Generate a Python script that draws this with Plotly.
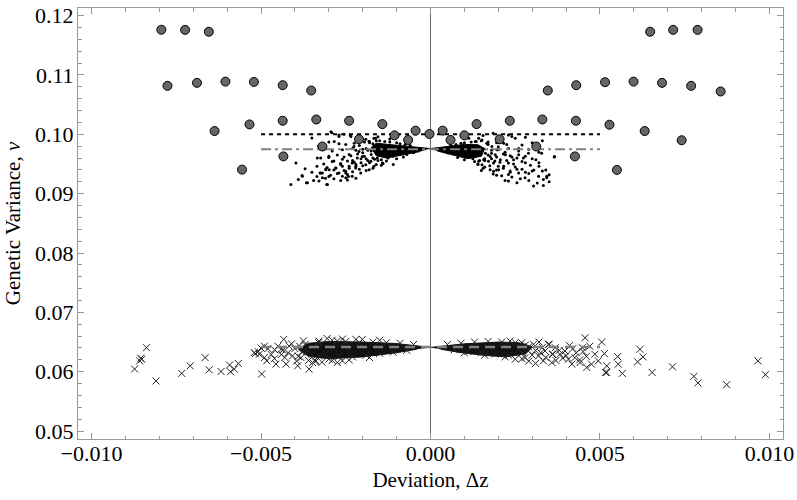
import numpy as np
import plotly.graph_objects as go

# all positions in units of 1e-3 (x: deviation dz, y: genetic variance v)

# gray circles
circ_x = [-7.94, -7.24, -6.54,
          -7.76, -6.89, -6.05, -5.21, -4.36, -3.52,
          -6.37, -5.34, -4.36, -3.37, -2.40, -1.42, -0.44,
          -5.56, -4.34, -3.19, -2.11, -1.06, -0.03, -0.66,
          0.36, 0.59, 1.00, 1.36, 2.04, 2.34, 3.12, 3.30,
          3.46, 4.30, 5.15, 5.99, 6.83, 7.69, 8.56,
          4.29, 5.28, 6.32, 7.41, 4.26, 5.50,
          6.48, 7.16, 7.88]
circ_y = [117.62, 117.60, 117.28,
          108.17, 108.67, 108.88, 108.83, 108.28, 107.38,
          100.55, 101.67, 102.28, 102.50, 102.28, 101.72, 100.62,
          94.05, 96.28, 97.95, 99.17, 99.83, 100.05, 99.05,
          100.62, 99.05, 99.83, 101.72, 99.17, 102.28, 97.95, 102.50,
          107.38, 108.28, 108.78, 108.88, 108.67, 108.17, 107.22,
          102.28, 101.62, 100.55, 99.00, 96.28, 94.00,
          117.28, 117.60, 117.60]

# small black dots, scattered part
dot_x = [-3.63, -3.06, -3.79, -3.97, -3.26, -3.09, -2.80, -2.50, -2.42, -2.20,
         -2.91, -2.70, -2.37, -1.91, -1.81, -1.62, -3.78, -3.34, -3.24, -3.29,
         -3.19, -3.04, -2.99, -2.79, -2.70, -2.60, -2.45, -2.50, -2.40, -2.31,
         -2.21, -2.16, -2.01, -2.11, -2.26, -1.91, -1.76, -1.67, -1.57, -1.47,
         -1.42, -1.81, -2.06, -2.31, -2.50, -3.09, -3.24, -3.19, -4.12, -3.66,
         -2.94, -2.70, -2.35, -2.84, -1.67, -1.81,
         -1.80, -1.90, -2.00, -1.70, -1.55, -1.30, -1.00, -0.80, -1.20, -0.90,
         -1.60, -2.20, -2.40, -2.60, -2.30, -1.90, -2.10, -2.50, -1.10, -1.35,
         -1.75, -2.05, -2.65, -2.85, -3.00, -1.45, -0.95, -0.70, -0.60, -1.15,
         -1.85, -2.00, -2.30, -2.60, -2.90, -3.20,
         -1.75, -1.95, -2.15, -2.35, -2.55, -2.75, -3.00,
         -1.65, -1.85, -2.05, -2.25, -2.45, -2.65, -2.90, -3.15,
         -1.40, -1.60, -1.80, -2.00, -2.20, -2.40, -2.60, -2.85, -3.05, -3.35,
         -1.70, -1.90, -2.10, -2.30, -2.55, -2.75, -2.95, -3.10, -3.35, -3.50, -3.70,
         -2.20, -2.45, -2.65, -2.85, -3.00, -3.45, -3.90,
         -0.50, -0.60, -0.75, -1.00, -1.25, -1.45, -1.10, -0.90, -1.35, -1.50,
         -1.70, -1.95, -2.25, -2.70, -3.00, -3.30, -1.55, -1.20, -2.55, -3.50,
         1.42, 1.52, 1.66, 1.81, 1.96, 2.40, 2.50, 2.16, 1.62, 1.76,
         1.91, 2.06, 1.86, 1.71, 1.57, 2.21, 2.30, 2.45, 2.60, 2.74,
         2.89, 3.11, 3.66, 2.16, 2.01, 1.86, 2.30, 2.55, 2.60, 2.79,
         3.04, 3.33, 3.43, 3.19, 2.30, 1.76, 1.52, 1.42, 1.32, 2.01,
         1.13, 1.32, 3.28, 3.65, 3.33, 3.43,
         1.70, 1.80, 1.60, 1.30, 1.00, 0.80, 1.20, 0.90, 2.00, 2.20,
         2.40, 1.90, 2.10, 2.60, 2.80, 2.50, 2.00, 1.60, 1.50, 2.70,
         3.00, 3.20, 3.50, 1.10, 0.70, 2.90, 2.35, 1.95, 1.40, 3.40,
         1.80, 2.00, 2.30, 2.60, 2.90, 3.20,
         1.70, 1.95, 2.15, 2.35, 2.55, 2.80, 3.00,
         1.60, 1.80, 2.05, 2.25, 2.45, 2.70, 2.95, 3.20,
         1.40, 1.55, 1.75, 1.95, 2.15, 2.35, 2.55, 2.80, 3.05, 3.30,
         1.85, 2.10, 2.40, 2.65, 2.90, 3.15, 3.50, 2.20,
         0.50, 0.60, 0.75, 1.00, 1.25, 1.45, 1.10, 0.90, 1.35, 1.50,
         1.70, 1.95, 2.25, 2.70, 3.00, 1.55, 1.85, 2.30, 2.80, 3.30]
dot_y = [91.83, 91.55, 93.05, 95.17, 93.50, 94.17, 94.33, 93.50, 92.90, 94.60,
         100.28, 99.62, 99.89, 99.17, 98.78, 99.33, 92.95, 96.00, 96.00, 92.12,
         93.50, 91.55, 94.05, 94.33, 93.50, 92.95, 93.22, 93.78, 94.62, 95.17,
         94.33, 96.00, 96.28, 97.12, 97.95, 94.88, 95.45, 94.62, 96.00, 96.55,
         95.17, 94.05, 93.50, 92.95, 92.67, 94.05, 93.50, 92.67, 91.55, 91.83,
         100.45, 99.89, 99.62, 98.78, 99.33, 98.78,
         98.60, 97.60, 96.90, 96.00, 95.60, 95.50, 95.90, 96.20, 98.70, 98.40,
         98.90, 97.30, 96.60, 95.80, 95.60, 95.90, 98.10, 98.30, 94.90, 96.70,
         97.20, 95.20, 94.90, 95.50, 96.30, 94.80, 97.00, 96.60, 98.00, 97.60,
         97.30, 97.50, 97.60, 97.40, 97.20, 97.50,
         96.60, 96.30, 96.70, 96.40, 96.20, 96.50, 96.10,
         95.80, 95.60, 95.90, 95.30, 95.50, 95.10, 95.40, 95.00,
         95.10, 94.90, 95.20, 94.70, 94.90, 94.30, 94.60, 94.00, 94.40, 94.60,
         94.30, 93.90, 94.10, 93.70, 93.90, 93.40, 93.10, 92.60, 92.90, 93.60, 94.20,
         92.60, 92.30, 92.20, 92.50, 92.90, 92.20, 92.40,
         96.90, 98.10, 98.30, 98.60, 96.00, 95.70, 96.30, 96.60, 98.80, 98.90,
         98.40, 98.70, 98.50, 98.40, 98.70, 98.00, 99.60, 99.20, 100.00, 99.40,
         99.33, 99.05, 98.50, 97.95, 97.38, 99.62, 99.33, 98.50, 96.83, 96.28,
         96.55, 95.72, 95.17, 95.45, 95.72, 96.55, 95.17, 95.72, 96.55, 96.00,
         96.83, 95.72, 96.28, 94.62, 94.05, 93.78, 93.22, 91.83, 93.50, 92.67,
         91.28, 91.38, 92.67, 92.95, 92.12, 94.05, 94.88, 95.45, 96.28, 99.62,
         99.33, 98.78, 96.83, 96.17, 92.38, 92.95,
         98.70, 96.80, 95.90, 95.40, 95.70, 96.10, 98.70, 98.50, 97.90, 97.00,
         96.20, 95.50, 98.80, 97.60, 95.20, 94.50, 94.60, 94.50, 93.90, 94.10,
         93.80, 94.60, 93.20, 97.10, 96.80, 93.40, 93.60, 93.10, 95.00, 94.00,
         97.30, 97.40, 97.60, 97.20, 97.50, 97.00,
         96.50, 96.20, 96.70, 96.40, 96.00, 96.30, 95.90,
         95.60, 95.90, 95.30, 95.60, 95.00, 95.40, 94.80, 95.20,
         94.90, 94.30, 94.70, 94.00, 94.30, 93.80, 94.10, 93.60, 94.00, 93.80,
         93.30, 93.00, 92.80, 92.50, 92.20, 91.80, 92.00, 92.20,
         96.90, 98.10, 98.30, 98.60, 95.90, 95.60, 96.30, 96.60, 98.80, 98.90,
         98.30, 98.60, 98.30, 98.20, 98.60, 99.80, 100.20, 99.90, 99.50, 98.90]

# outline of the solid dot wedges around dz = 0
wedge_l_x = [0.0, -0.6, -1.2, -1.6, -1.75, -1.6, -1.3, -0.8, -0.3]
wedge_l_y = [97.6, 97.95, 98.3, 98.5, 97.8, 96.4, 96.0, 96.5, 97.1]
wedge_r_x = [0.0, 0.5, 1.0, 1.4, 1.6, 1.5, 1.1, 0.6, 0.2]
wedge_r_y = [97.6, 98.0, 98.3, 98.25, 97.6, 96.3, 95.9, 96.6, 97.2]

# crosses, scattered part
crs_x = [-8.38, -8.55, -8.58, -8.52, -8.73, -8.10, -7.34, -7.09, -6.65, -6.53,
         -6.18, -5.93, -5.90, -5.79, -5.67, -5.17, -5.08, -4.98, -4.90, -4.83,
         -4.33, -4.56, -4.26, -3.92, -3.58, -3.48, -3.29, -2.75, -2.75, -2.20,
         -2.01, -5.20, -5.05, -4.41, -4.17, -4.07, -3.87, -3.82, -3.63, -3.29,
         -3.00, -3.38, -2.60,
         -4.00, -3.70, -3.50, -3.30, -3.10, -2.90, -2.70, -2.50, -2.30, -2.10,
         -1.90, -1.70, -1.50, -1.30, -1.10, -0.90, -0.70, -0.50, -4.20, -3.90,
         -4.60, -4.40, -3.60, -3.20, -2.90, -2.40, -1.80, -3.05, -2.60, -1.50,
         -4.80, -4.70, -4.50, -4.30, -4.10, -3.95, -3.75, -3.40, -4.90, -4.60,
         -3.80, -4.35, -5.00,
         5.05, 4.56, 4.48, 4.41, 4.61, 5.20, 4.17, 3.82, 3.48, 3.04,
         2.69, 2.79, 3.58, 3.97, 5.13, 5.20, 5.16, 5.52, 5.54, 5.66,
         6.18, 6.27, 6.11, 6.54, 7.14, 7.77, 7.89, 8.74, 9.66, 9.88,
         3.19, 3.33, 2.89, 3.68, 4.26, 4.85, 4.95, 4.75, 4.07, 3.38,
         2.35, 2.50,
         0.50, 0.70, 0.90, 1.10, 1.30, 1.50, 1.70, 1.90, 2.10, 2.30,
         2.50, 2.70, 2.90, 3.10, 2.20, 1.60, 1.00, 3.30, 3.60, 3.90,
         4.10, 4.30, 4.60, 4.70,
         2.60, 2.80, 3.00, 3.20, 3.40, 3.50, 3.70, 3.80, 4.00, 4.20,
         4.40, 2.90, 3.25, 3.60, 4.50, 3.10, 2.70]
crs_y = [64.05, 62.28, 61.83, 62.10, 60.45, 58.45, 59.72, 61.00, 62.38, 60.33,
         60.05, 61.12, 60.00, 60.45, 61.38, 63.05, 63.38, 59.62, 62.38, 61.83,
         65.45, 61.28, 61.28, 61.00, 60.45, 61.55, 65.17, 65.17, 61.55, 65.45,
         65.45, 63.22, 62.95, 63.78, 64.33, 62.67, 64.33, 62.38, 63.50, 62.67,
         62.12, 61.83, 61.83,
         63.90, 64.60, 62.90, 64.90, 63.00, 65.30, 62.60, 65.10, 62.50, 64.90,
         62.80, 65.00, 63.10, 64.90, 63.30, 64.80, 63.60, 64.60, 63.20, 62.60,
         63.70, 62.90, 61.90, 61.60, 61.90, 62.00, 62.40, 65.60, 65.50, 65.30,
         63.90, 62.90, 64.30, 62.40, 64.70, 61.80, 65.20, 61.70, 64.30, 62.20,
         63.30, 63.70, 64.00,
         65.00, 65.72, 64.05, 61.55, 60.72, 59.88, 61.28, 62.95, 64.62, 64.62,
         64.88, 62.38, 61.55, 63.50, 63.05, 61.00, 59.88, 62.55, 61.28, 59.72,
         63.78, 62.50, 61.67, 59.88, 60.83, 59.22, 58.12, 57.83, 61.83, 59.50,
         62.67, 61.83, 63.50, 64.05, 62.38, 62.95, 61.83, 61.28, 62.12, 63.50,
         65.17, 62.12,
         64.60, 63.70, 64.80, 63.40, 65.00, 63.20, 65.10, 63.00, 65.00, 62.80,
         64.90, 63.20, 64.20, 63.60, 62.50, 62.80, 63.20, 64.10, 63.00, 62.30,
         64.40, 63.20, 62.60, 64.30,
         63.80, 64.50, 62.80, 65.00, 62.40, 64.60, 61.90, 63.60, 62.70, 63.90,
         62.00, 61.80, 63.20, 62.90, 63.40, 61.40, 62.20]

# outline of the solid cross bands
band_l_x = [0.0, -1.0, -2.0, -3.0, -3.6, -3.9, -3.6, -3.0, -2.0, -1.0, -0.4]
band_l_y = [64.1, 64.75, 65.0, 65.1, 64.8, 63.8, 62.6, 62.2, 62.5, 63.2, 63.8]
band_r_x = [0.0, 1.0, 2.0, 2.6, 3.0, 2.8, 2.2, 1.5, 0.8, 0.3]
band_r_y = [64.1, 64.7, 65.0, 64.9, 64.2, 63.0, 62.5, 62.8, 63.3, 63.8]

# reference lines
ref_x = [-5.0, 5.0]
ref_top = 100.0
ref_mid = 97.5
ref_low = 64.15

s = 1e-3
fnt = "Liberation Serif, Times New Roman, serif"

fig = go.Figure()

for wx, wy in [(wedge_l_x, wedge_l_y), (wedge_r_x, wedge_r_y)]:
    fig.add_trace(go.Scatter(x=np.array(wx) * s, y=np.array(wy) * s, fill="toself",
                             fillcolor="black", mode="lines",
                             line=dict(color="black", width=1)))
fig.add_trace(go.Scatter(x=np.array(dot_x) * s, y=np.array(dot_y) * s, mode="markers",
                         marker=dict(color="black", size=3)))

for bx, by in [(band_l_x, band_l_y), (band_r_x, band_r_y)]:
    fig.add_trace(go.Scatter(x=np.array(bx) * s, y=np.array(by) * s, fill="toself",
                             fillcolor="#111", mode="lines",
                             line=dict(color="#111", width=1)))
fig.add_trace(go.Scatter(x=np.array(crs_x) * s, y=np.array(crs_y) * s, mode="markers",
                         marker=dict(symbol="x-thin-open", size=7, color="#222",
                                     line=dict(color="#222", width=1))))

rx = np.array(ref_x) * s
fig.add_trace(go.Scatter(x=rx, y=[ref_top * s] * 2, mode="lines",
                         line=dict(color="black", width=2, dash="4px,4px")))
fig.add_trace(go.Scatter(x=rx, y=[ref_mid * s] * 2, mode="lines",
                         line=dict(color="#808080", width=2, dash="10px,4px,3px,4px")))
fig.add_trace(go.Scatter(x=rx, y=[ref_low * s] * 2, mode="lines",
                         line=dict(color="#808080", width=2.5, dash="10px,6px")))

fig.add_trace(go.Scatter(x=np.array(circ_x) * s, y=np.array(circ_y) * s, mode="markers",
                         marker=dict(color="#666666", size=9,
                                     line=dict(color="black", width=1))))

axis_common = dict(showgrid=False, showline=True, linecolor="#999", linewidth=1,
                   mirror="allticks", ticks="inside", ticklen=6, tickcolor="#999",
                   ticklabeloverflow="allow",
                   tickfont=dict(family=fnt, size=22, color="black"))

fig.update_layout(
    width=797, height=500,
    margin=dict(l=78, r=12, t=3, b=61),
    plot_bgcolor="white", paper_bgcolor="white",
    showlegend=False,
    font=dict(family=fnt, size=21, color="black"),
    xaxis=dict(range=[-0.0104, 0.0104], tick0=0, dtick=0.005, tickformat=".3f",
               zeroline=True, zerolinecolor="#666", zerolinewidth=1,
               ticklabelstandoff=-5,
               minor=dict(dtick=0.001, ticks="inside", ticklen=3.5, tickcolor="#999"),
               title=dict(text="Deviation, Δz", standoff=6,
                          font=dict(family=fnt, size=21)),
               **axis_common),
    yaxis=dict(range=[0.048667, 0.121283], tick0=0, dtick=0.01, tickformat=".2f",
               zeroline=False,
               ticklabelstandoff=-1,
               minor=dict(dtick=0.002, ticks="inside", ticklen=3.5, tickcolor="#999"),
               title=dict(text="Genetic Variance, <i>ν</i>", standoff=8,
                          font=dict(family=fnt, size=21)),
               **axis_common),
)

# the page's default body margin would push the chart 8px off
fig.write_html("out.html", config={"displayModeBar": False},
               post_script="document.body.style.margin='0';")
